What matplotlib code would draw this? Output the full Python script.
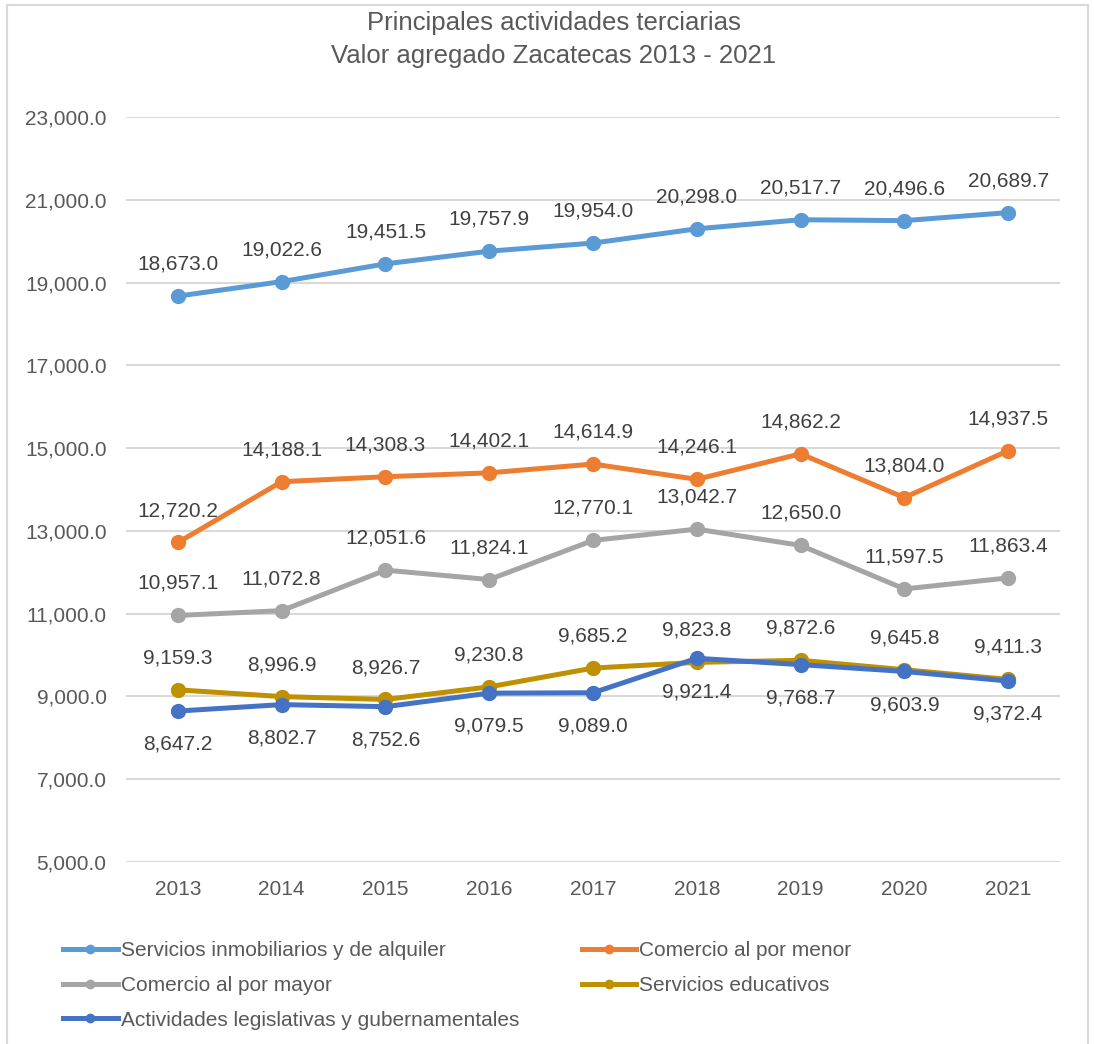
import matplotlib.pyplot as plt
from matplotlib.patches import Rectangle
from matplotlib.lines import Line2D

plt.rcParams['font.family'] = ['Liberation Sans', 'DejaVu Sans']

years = ['2013', '2014', '2015', '2016', '2017', '2018', '2019', '2020', '2021']

inmobiliarios = [18673.0, 19022.6, 19451.5, 19757.9, 19954.0, 20298.0, 20517.7, 20496.6, 20689.7]
por_menor = [12720.2, 14188.1, 14308.3, 14402.1, 14614.9, 14246.1, 14862.2, 13804.0, 14937.5]
por_mayor = [10957.1, 11072.8, 12051.6, 11824.1, 12770.1, 13042.7, 12650.0, 11597.5, 11863.4]
educativos = [9159.3, 8996.9, 8926.7, 9230.8, 9685.2, 9823.8, 9872.6, 9645.8, 9411.3]
legislativas = [8647.2, 8802.7, 8752.6, 9079.5, 9089.0, 9921.4, 9768.7, 9603.9, 9372.4]

names = ['Servicios inmobiliarios y de alquiler', 'Comercio al por menor',
         'Comercio al por mayor', 'Servicios educativos',
         'Actividades legislativas y gubernamentales']
series = [inmobiliarios, por_menor, por_mayor, educativos, legislativas]
colors = ['#5B9BD5', '#ED7D31', '#A5A5A5', '#BF9000', '#4472C4']
above = [True, True, True, True, False]

txt = '#595959'

fig = plt.figure(figsize=(10.94, 10.44), dpi=100)
ax = fig.add_axes([126/1094, 1 - 862/1044, (1060 - 126)/1094, (862 - 117)/1044])

x = list(range(len(years)))
for vals, c, up in zip(series, colors, above):
    ax.plot(x, vals, color=c, lw=3.6, marker='o', ms=10, solid_capstyle='round', zorder=3)
    for xi, v in zip(x, vals):
        ax.annotate(f'{v:,.1f}', (xi, v), xytext=(0, 23 if up else -24),
                    textcoords='offset points', ha='center', va='center',
                    fontsize=15, color='#404040')

ax.set_xlim(-0.5, len(years) - 0.5)
ax.set_ylim(5000, 23000)
ax.set_yticks(range(5000, 23001, 2000))
ax.yaxis.set_major_formatter(plt.FuncFormatter(lambda v, p: f'{v:,.1f}'))
ax.set_xticks(x)
ax.set_xticklabels(years)
ax.tick_params(axis='both', length=0, labelsize=15, labelcolor=txt)
ax.tick_params(axis='x', pad=13)
ax.tick_params(axis='y', pad=14)
ax.grid(axis='y', color='#D9D9D9', lw=1.5)
ax.set_axisbelow(True)
for s in ax.spines.values():
    s.set_visible(False)

fig.text(0.506, 1 - 23/1044, 'Principales actividades terciarias', ha='center', va='center',
         fontsize=18.5, color=txt)
fig.text(0.506, 1 - 56/1044, 'Valor agregado Zacatecas 2013 - 2021', ha='center', va='center',
         fontsize=18.5, color=txt)

handles = [Line2D([], [], color=c, lw=3.6, marker='o', ms=6) for c in colors]
order = [0, 2, 4, 1, 3]
fig.legend([handles[i] for i in order], [names[i] for i in order], ncol=2,
           loc='upper left', bbox_to_anchor=(55/1094, 1 - 933/1044), frameon=False,
           fontsize=15, labelcolor=txt, handlelength=2.6, handletextpad=0.15,
           columnspacing=3.0, labelspacing=0.75, borderaxespad=0)

fig.patches.append(Rectangle((7/1094, -0.05), (1088 - 7)/1094, 1.05 - 5/1044,
                             transform=fig.transFigure, fill=False, ec='#D9D9D9', lw=1.5))

fig.savefig('out.png', dpi=100)
